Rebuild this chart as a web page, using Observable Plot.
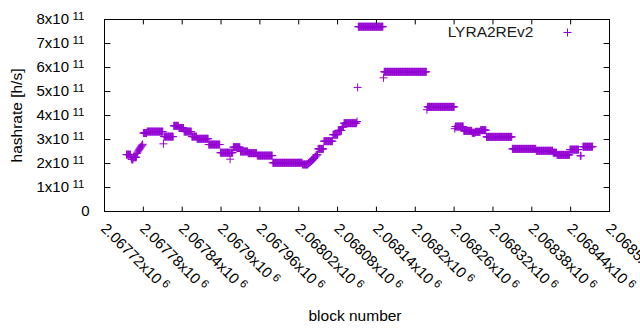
<!DOCTYPE html>
<html><head><meta charset="utf-8">
<script src="https://cdn.jsdelivr.net/npm/d3@7"></script>
<script src="https://cdn.jsdelivr.net/npm/@observablehq/plot@0.6"></script>
<style>
body{margin:0;background:#fff}
svg{font-family:"Liberation Sans",Arial,sans-serif}
</style>
</head><body><div id="chart"></div>
<script>
const seriesName = "LYRA2REv2";
const xLabel = "block number";
const yLabel = "hashrate [h/s]";

// runs of consecutive blocks sharing one hashrate value (h/s)
const runStart = [2067754,2067761,2067762,2067765,2067770,2067771,2067772,2067773,2067774,2067775,2067776,2067777,2067778,2067779,2067780,2067786,2067811,2067812,2067827,2067835,2067843,2067855,2067863,2067881,2067899,2067914,2067915,2067919,2067930,2067942,2067956,2067980,2068026,2068035,2068037,2068039,2068041,2068043,2068045,2068047,2068050,2068059,2068073,2068081,2068087,2068090,2068110,2068111,2068112,2068151,2068152,2068218,2068219,2068261,2068262,2068275,2068288,2068293,2068301,2068310,2068350,2068387,2068413,2068419,2068439,2068455,2068459];
const runEnd   = [2067760,2067761,2067764,2067769,2067770,2067771,2067772,2067773,2067774,2067775,2067776,2067777,2067778,2067779,2067785,2067810,2067811,2067826,2067834,2067842,2067854,2067862,2067880,2067898,2067913,2067914,2067918,2067929,2067941,2067955,2067979,2068025,2068034,2068036,2068038,2068040,2068042,2068044,2068046,2068049,2068058,2068072,2068080,2068086,2068089,2068109,2068110,2068111,2068150,2068151,2068217,2068218,2068260,2068261,2068274,2068287,2068292,2068300,2068309,2068349,2068386,2068412,2068418,2068438,2068452,2068456,2068474];
const runHashrate = [2.37e11,2.26e11,2.17e11,2.26e11,2.42e11,2.47e11,2.52e11,2.56e11,2.60e11,2.64e11,2.68e11,2.72e11,2.76e11,2.80e11,3.27e11,3.33e11,2.82e11,3.12e11,3.57e11,3.48e11,3.33e11,3.12e11,3.03e11,2.79e11,2.45e11,2.18e11,2.45e11,2.68e11,2.50e11,2.43e11,2.33e11,2.03e11,1.96e11,2.01e11,2.06e11,2.11e11,2.16e11,2.22e11,2.28e11,2.36e11,2.61e11,2.93e11,3.20e11,3.38e11,3.52e11,3.68e11,3.75e11,5.17e11,7.70e11,5.57e11,5.82e11,4.24e11,4.36e11,3.45e11,3.54e11,3.36e11,3.28e11,3.32e11,3.39e11,3.11e11,2.61e11,2.53e11,2.45e11,2.36e11,2.58e11,2.32e11,2.70e11];

const xTicks = [2067720,2067780,2067840,2067900,2067960,2068020,2068080,2068140,2068200,2068260,2068320,2068380,2068440,2068500];
const xTickMantissa = ["2.06772","2.06778","2.06784","2.0679","2.06796","2.06802","2.06808","2.06814","2.0682","2.06826","2.06832","2.06838","2.06844","2.0685"];
const xExponent = "6";
const yTicks = [0,1e11,2e11,3e11,4e11,5e11,6e11,7e11,8e11];
const yTickMantissa = ["0","1","2","3","4","5","6","7","8"];
const yExponent = "11";

const points = [];
runStart.forEach((s, i) => {
  for (let b = s; b <= runEnd[i]; b++) points.push({block: b, hashrate: runHashrate[i]});
});

const color = "#9400d3";
const plusSymbol = {draw(ctx, size) {
  const r = Math.sqrt(size / Math.PI);
  ctx.moveTo(-r, 0); ctx.lineTo(r, 0); ctx.moveTo(0, -r); ctx.lineTo(0, r);
}};
const tickShape = {draw(ctx, l) { ctx.moveTo(0, 0); ctx.lineTo(0, -l); }};
const tickOpts = {anchor: "start", shape: tickShape, stroke: "#000", strokeWidth: 1};
const yIdx = yTicks.map((d, i) => i);
const tickFont = 15;

const chart = Plot.plot({
  width: 640, height: 330,
  marginLeft: 104, marginRight: 31, marginTop: 19, marginBottom: 119,
  x: {domain: [2067720, 2068500], axis: null},
  y: {domain: [0, 8e11], axis: null},
  style: {fontFamily: '"Liberation Sans", Arial, sans-serif', fontSize: "15px", color: "#000", background: "#fff", overflow: "visible"},
  marks: [
    Plot.dot(points, {x: "block", y: "hashrate", symbol: plusSymbol, r: 4, stroke: color, fill: "none", strokeWidth: 1}),
    Plot.frame({stroke: "#000", strokeWidth: 1}),
    Plot.vector(xTicks, {x: d => d, frameAnchor: "bottom", length: 4.5, rotate: 0, ...tickOpts}),
    Plot.vector(xTicks, {x: d => d, frameAnchor: "top", length: 4.5, rotate: 180, ...tickOpts}),
    Plot.vector(yTicks, {y: d => d, frameAnchor: "left", length: 5.5, rotate: 90, ...tickOpts}),
    Plot.vector(yTicks, {y: d => d, frameAnchor: "right", length: 5.5, rotate: -90, ...tickOpts}),
    Plot.text(xTicks, {x: d => d, frameAnchor: "bottom", text: (d, i) => xTickMantissa[i] + "x10", rotate: 45, textAnchor: "start", lineAnchor: "middle", dx: -1, dy: 14.5, fontSize: tickFont, fill: "#000"}),
    Plot.text(yIdx.filter(i => yTicks[i] === 0), {y: i => yTicks[i], frameAnchor: "left", text: i => yTickMantissa[i], textAnchor: "end", lineAnchor: "middle", dx: -15, fontSize: tickFont, fill: "#000"}),
    Plot.text(yIdx.filter(i => yTicks[i] !== 0), {y: i => yTicks[i], frameAnchor: "left", text: i => yTickMantissa[i] + "x10", textAnchor: "end", lineAnchor: "middle", dx: -20, fontSize: tickFont, fill: "#000"}),
    Plot.text([yLabel], {frameAnchor: "left", text: d => d, rotate: -90, textAnchor: "middle", lineAnchor: "middle", dx: -87, fontSize: 15.5, fill: "#000"}),
    Plot.text([xLabel], {frameAnchor: "bottom", text: d => d, textAnchor: "middle", lineAnchor: "middle", dx: -2, dy: 105, fontSize: 15.5, fill: "#000"}),
    Plot.text([seriesName], {frameAnchor: "top-right", text: d => d, textAnchor: "end", lineAnchor: "middle", dx: -76, dy: 12.5, fontSize: 15.5, fill: "#1a1a1a"}),
    Plot.dot([seriesName], {frameAnchor: "top-right", dx: -42, dy: 13, symbol: plusSymbol, r: 4, stroke: color, fill: "none", strokeWidth: 1})
  ]
});

// add superscript exponents to tick labels
d3.select(chart).selectAll("text").each(function() {
  const t = this.textContent;
  let exp = null;
  if (/^\d\.\d+x10$/.test(t)) exp = xExponent;
  else if (/^\dx10$/.test(t)) exp = yExponent;
  if (exp) {
    d3.select(this).append("tspan").attr("dx", 3.5).attr("dy", -4.5).attr("font-size", 11.5).text(exp);
  }
});
document.getElementById("chart").appendChild(chart);
</script>
</body></html>
